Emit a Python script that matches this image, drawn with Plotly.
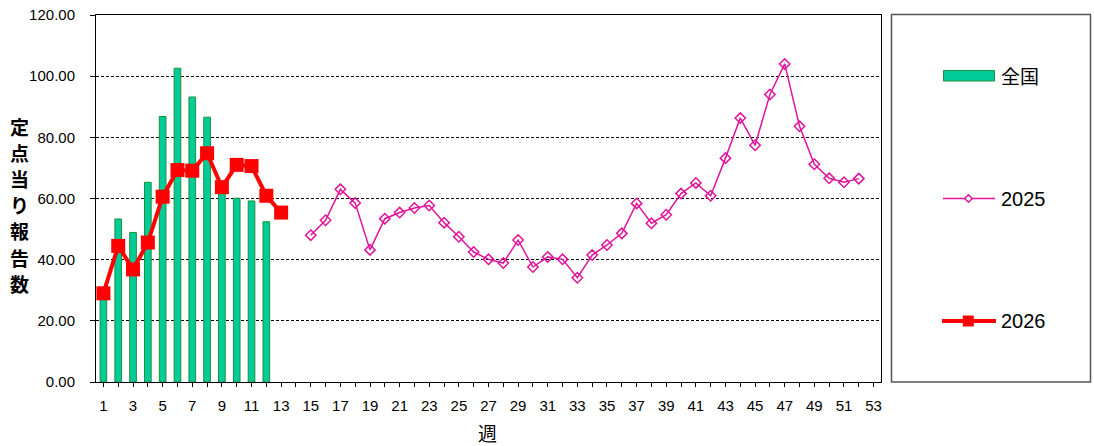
import plotly.graph_objects as go

# ---- data ----
weeks_nat = list(range(1, 13))
national = [28.5, 53.3, 48.9, 65.3, 86.8, 102.6, 93.2, 86.6, 62.0, 60.1, 59.2, 52.4]

weeks_2026 = list(range(1, 14))
y2026 = [29.0, 44.5, 36.8, 45.6, 60.6, 69.3, 69.1, 74.8, 63.7, 71.0, 70.6, 60.9, 55.4]

weeks_2025 = list(range(15, 53))
y2025 = [48.0, 52.9, 63.0, 58.5, 43.2, 53.4, 55.4, 56.9, 57.7, 52.1,
         47.5, 42.5, 40.1, 38.9, 46.4, 37.6, 40.9, 40.1, 34.1, 41.5,
         44.8, 48.6, 58.4, 51.9, 54.7, 61.6, 65.1, 60.9, 73.2, 86.3,
         77.4, 94.0, 104.0, 83.6, 71.2, 66.6, 65.3, 66.5]

x_tickvals = list(range(1, 54, 2))
y_tickvals = [0, 20, 40, 60, 80, 100, 120]
legend_names = ["全国", "2025", "2026"]
y_title = "定点当り報告数"
x_title = "週"

# ---- layout constants ----
W, H = 1094, 446
L, R, T, B = 96, 881, 15, 382

def px(x):
    return (x - L) / (R - L)

def py(y):
    return (B - y) / (B - T)

GREEN = "#00cc99"
GREEN_EDGE = "#1f8f3a"
MAGENTA = "#e0149b"
RED = "#ff0000"
FONT = "Liberation Sans, Arial, sans-serif"
CJK = "Noto Sans CJK JP"

fig = go.Figure()
fig.add_trace(go.Bar(x=weeks_nat, y=national, name=legend_names[0], width=0.45,
                     marker=dict(color=GREEN, line=dict(color=GREEN_EDGE, width=1)),
                     showlegend=False))
fig.add_trace(go.Scatter(x=weeks_2025, y=y2025, name=legend_names[1], mode="lines+markers",
                         line=dict(color=MAGENTA, width=1.5),
                         marker=dict(symbol="diamond-open", size=8, color=MAGENTA,
                                     line=dict(width=1.5, color=MAGENTA)),
                         showlegend=False))
fig.add_trace(go.Scatter(x=weeks_2026, y=y2026, name=legend_names[2], mode="lines+markers",
                         line=dict(color=RED, width=4),
                         marker=dict(symbol="square", size=14, color=RED),
                         showlegend=False))

shapes = []
annotations = []

# legend box
shapes.append(dict(type="rect", xref="paper", yref="paper",
                   x0=px(891.5), x1=px(1090.5), y0=py(382), y1=py(14.5),
                   line=dict(color="#555555", width=1.5), fillcolor="rgba(0,0,0,0)"))
# legend: national (bar)
shapes.append(dict(type="rect", xref="paper", yref="paper",
                   x0=px(943.5), x1=px(994.5), y0=py(81), y1=py(70.5),
                   line=dict(color=GREEN_EDGE, width=1), fillcolor=GREEN))
# legend: 2025
shapes.append(dict(type="line", xref="paper", yref="paper",
                   x0=px(943), x1=px(995), y0=py(198.5), y1=py(198.5),
                   line=dict(color=MAGENTA, width=1.5)))
cx, cy, d = 968.5, 198.5, 3.8
shapes.append(dict(type="path", xref="paper", yref="paper",
                   path=f"M {px(cx-d)} {py(cy)} L {px(cx)} {py(cy-d)} L {px(cx+d)} {py(cy)} L {px(cx)} {py(cy+d)} Z",
                   line=dict(color=MAGENTA, width=1.5), fillcolor="white"))
# legend: 2026
shapes.append(dict(type="line", xref="paper", yref="paper",
                   x0=px(942), x1=px(996), y0=py(321), y1=py(321),
                   line=dict(color=RED, width=4)))
shapes.append(dict(type="rect", xref="paper", yref="paper",
                   x0=px(962.8), x1=px(973.8), y0=py(326.5), y1=py(315.5),
                   line=dict(color=RED, width=0), fillcolor=RED))

for name, yy in zip(legend_names, [75.5, 198.5, 321]):
    annotations.append(dict(text=name, xref="paper", yref="paper", x=px(999), y=py(yy),
                            xanchor="left", yanchor="middle", showarrow=False,
                            font=dict(family=FONT if name.isdigit() else CJK,
                                      size=20 if name.isdigit() else 19, color="black")))

# y axis title: stacked characters
for i, ch in enumerate(y_title):
    annotations.append(dict(text=ch, xref="paper", yref="paper", x=px(19), y=py(126 + i * 26.2),
                            xanchor="center", yanchor="middle", showarrow=False,
                            font=dict(family=CJK, size=19, color="black", weight="bold")))
# x axis title
annotations.append(dict(text=x_title, xref="paper", yref="paper", x=px(487), y=py(432),
                        xanchor="center", yanchor="middle", showarrow=False,
                        font=dict(family=CJK, size=19, color="black")))

fig.update_layout(
    width=W, height=H,
    margin=dict(l=L, r=W - R, t=T, b=H - B, autoexpand=False),
    paper_bgcolor="white", plot_bgcolor="white",
    font=dict(family=FONT, size=15, color="black"),
    bargap=0.5,
    shapes=shapes, annotations=annotations,
    showlegend=False,
)
fig.update_xaxes(range=[0.5, 53.5], tickmode="array", tickvals=x_tickvals,
                 ticks="outside", ticklen=4, tickcolor="black",
                 minor=dict(dtick=1, tick0=0, ticks="outside", ticklen=4, tickcolor="black"),
                 showline=True, linecolor="black", linewidth=1, mirror=True,
                 showgrid=False, zeroline=False, tickfont=dict(size=15),
                 ticklabelstandoff=6, automargin=False)
fig.update_yaxes(range=[0, 120], tickmode="array", tickvals=y_tickvals, tickformat=".2f",
                 ticks="outside", ticklen=5, tickcolor="black",
                 showline=True, linecolor="black", linewidth=1, mirror=True,
                 showgrid=True, gridcolor="black", gridwidth=1, griddash="3px,2px",
                 zeroline=False, tickfont=dict(size=15), ticklabelstandoff=12,
                 automargin=False)

fig.write_html("out.html", config={"displayModeBar": False},
               post_script="document.body.style.margin='0';document.body.style.overflow='hidden';")
